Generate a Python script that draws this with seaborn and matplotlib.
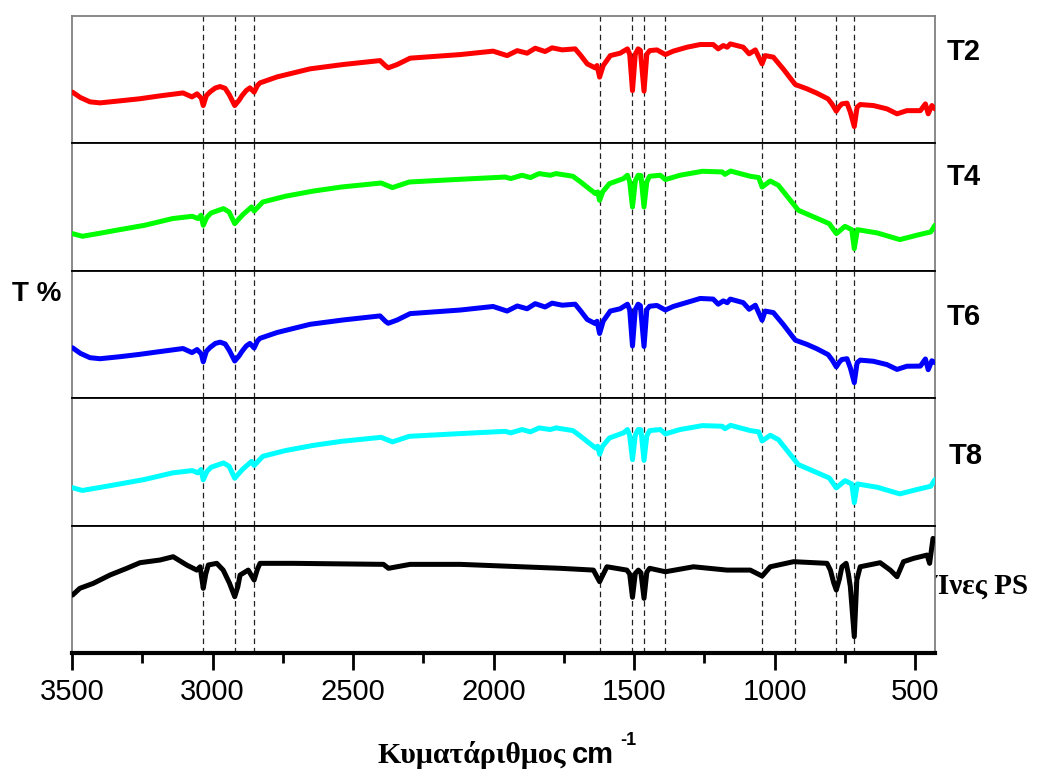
import numpy as np
import pandas as pd
import matplotlib
matplotlib.use("Agg")
import matplotlib.pyplot as plt
import seaborn as sns

# Espectros FTIR: (número de onda cm-1, T% relativo no painel)
t2 = [(3498, 40.2), (3470, 36.0), (3436, 32.6), (3400, 31.8), (3329, 33.4), (3260, 35.0),
      (3187, 37.3), (3105, 39.6), (3073, 36.5), (3055, 38.9), (3040, 35.5), (3033, 29.7),
      (3022, 37.5), (3009, 40.4), (2990, 43.5), (2973, 44.6), (2955, 43.2), (2940, 38.0),
      (2921, 29.7), (2905, 34.0), (2895, 37.5), (2880, 41.5), (2867, 43.6), (2852, 40.2),
      (2840, 45.5), (2831, 47.5), (2770, 52.2), (2653, 58.5), (2536, 61.9), (2404, 65.0),
      (2385, 61.0), (2375, 59.3), (2343, 61.9), (2297, 66.9), (2119, 69.7), (2002, 72.4),
      (1952, 68.9), (1916, 72.8), (1881, 70.8), (1852, 74.7), (1817, 72.1), (1792, 75.0),
      (1756, 73.4), (1710, 74.2), (1690, 69.0), (1667, 62.4), (1639, 59.3), (1632, 61.1),
      (1623, 52.0), (1610, 61.1), (1585, 68.9), (1550, 70.8), (1524, 74.2), (1516, 70.0),
      (1506, 41.4), (1496, 70.0), (1486, 74.2), (1478, 73.0), (1465, 41.0), (1455, 70.0),
      (1445, 72.8), (1419, 73.4), (1389, 69.7), (1361, 72.4), (1312, 75.5), (1265, 77.6),
      (1219, 77.6), (1201, 74.2), (1183, 76.8), (1169, 75.5), (1158, 78.1), (1112, 75.5),
      (1091, 70.3), (1069, 73.4), (1045, 62.4), (1034, 68.9), (1005, 67.7), (970, 58.5),
      (927, 46.2), (885, 42.8), (850, 39.4), (810, 34.9), (795, 30.5), (781, 25.3),
      (770, 29.0), (761, 31.0), (743, 31.6), (731, 24.5), (717, 13.2), (707, 28.4),
      (696, 30.5), (649, 29.7), (601, 27.1), (565, 23.2), (530, 25.7), (482, 25.7),
      (464, 31.0), (454, 23.2), (441, 29.7), (430, 27.1)]

t4 = [(3499, 29.2), (3463, 27.1), (3400, 29.5), (3343, 31.8), (3242, 35.7), (3142, 41.0),
      (3072, 42.8), (3052, 41.0), (3041, 43.6), (3033, 35.7), (3020, 42.0), (3005, 45.4),
      (2961, 48.8), (2941, 46.2), (2921, 37.0), (2905, 41.0), (2891, 44.3), (2861, 50.1),
      (2852, 46.9), (2821, 54.0), (2741, 58.5), (2641, 62.6), (2540, 65.8), (2400, 68.9),
      (2360, 65.3), (2300, 69.7), (2139, 71.6), (1959, 73.6), (1939, 72.4), (1899, 75.0),
      (1869, 73.2), (1838, 76.3), (1799, 75.0), (1778, 76.3), (1718, 74.2), (1695, 70.5),
      (1668, 65.8), (1638, 60.6), (1630, 61.9), (1623, 55.3), (1612, 62.0), (1588, 68.4),
      (1538, 72.4), (1524, 75.0), (1516, 70.0), (1506, 50.1), (1496, 70.5), (1486, 75.0),
      (1476, 74.8), (1465, 50.1), (1455, 70.0), (1445, 74.2), (1407, 75.0), (1389, 71.6),
      (1337, 75.0), (1257, 78.1), (1187, 77.6), (1177, 75.7), (1157, 78.3), (1087, 74.2),
      (1057, 73.2), (1045, 65.8), (1016, 70.5), (987, 67.1), (916, 47.5), (856, 41.8),
      (806, 37.0), (781, 29.2), (750, 34.9), (726, 32.3), (717, 17.4), (706, 32.3),
      (635, 29.7), (555, 24.5), (495, 27.9), (445, 30.5), (430, 35.7)]

t6 = [(3498, 39.6), (3470, 35.2), (3436, 31.8), (3400, 31.0), (3329, 32.6), (3260, 34.4),
      (3187, 36.6), (3105, 39.0), (3073, 35.8), (3055, 38.2), (3040, 34.8), (3033, 28.6),
      (3022, 36.8), (3009, 39.8), (2990, 43.0), (2973, 44.0), (2955, 42.6), (2940, 37.4),
      (2921, 29.2), (2905, 33.4), (2895, 36.8), (2880, 41.0), (2867, 43.0), (2852, 39.4),
      (2840, 45.0), (2831, 47.0), (2770, 51.6), (2653, 58.0), (2536, 61.4), (2404, 64.6),
      (2385, 60.4), (2375, 58.8), (2343, 61.4), (2297, 66.4), (2119, 69.2), (2002, 72.0),
      (1952, 68.4), (1916, 72.4), (1881, 70.2), (1852, 74.2), (1817, 71.6), (1792, 74.6),
      (1756, 73.0), (1710, 73.8), (1690, 68.4), (1667, 61.8), (1639, 58.6), (1632, 60.4),
      (1623, 50.8), (1610, 60.6), (1585, 68.4), (1550, 70.2), (1524, 73.8), (1516, 69.4),
      (1506, 41.0), (1496, 69.6), (1486, 73.8), (1478, 72.6), (1465, 40.6), (1455, 69.6),
      (1445, 72.2), (1419, 72.8), (1389, 69.2), (1361, 72.0), (1312, 75.2), (1265, 78.3),
      (1219, 77.8), (1201, 73.8), (1183, 76.4), (1169, 75.0), (1158, 77.8), (1112, 75.0),
      (1091, 69.8), (1069, 73.0), (1045, 61.2), (1034, 68.4), (1005, 67.2), (970, 58.0),
      (927, 45.6), (885, 42.2), (850, 38.8), (810, 34.2), (795, 29.8), (781, 24.6),
      (770, 28.4), (761, 30.4), (743, 31.0), (731, 23.8), (717, 12.2), (707, 27.8),
      (696, 29.9), (649, 29.0), (601, 26.4), (565, 22.6), (530, 25.1), (482, 25.2),
      (464, 30.8), (454, 22.4), (441, 29.4), (430, 27.9)]

t8 = [(3499, 29.8), (3463, 27.6), (3400, 30.0), (3343, 32.2), (3242, 36.2), (3142, 41.4),
      (3072, 43.2), (3052, 41.4), (3041, 44.0), (3033, 36.0), (3020, 42.4), (3005, 45.8),
      (2961, 49.2), (2941, 46.6), (2921, 37.2), (2905, 41.3), (2891, 44.6), (2861, 50.4),
      (2852, 47.2), (2821, 54.4), (2741, 58.9), (2641, 63.0), (2540, 66.2), (2400, 69.3),
      (2360, 65.7), (2300, 70.1), (2139, 72.0), (1959, 74.0), (1939, 72.8), (1899, 75.4),
      (1869, 73.6), (1838, 76.7), (1799, 75.4), (1778, 76.7), (1718, 74.6), (1695, 70.9),
      (1668, 66.2), (1638, 61.0), (1630, 62.3), (1623, 56.0), (1612, 62.4), (1588, 68.8),
      (1538, 72.8), (1524, 75.4), (1516, 70.6), (1506, 51.8), (1496, 71.0), (1486, 75.4),
      (1476, 75.2), (1465, 51.2), (1455, 70.6), (1445, 74.6), (1407, 75.4), (1389, 72.0),
      (1337, 75.4), (1257, 78.5), (1187, 78.0), (1177, 76.1), (1157, 78.7), (1087, 74.6),
      (1057, 73.6), (1045, 66.4), (1016, 70.9), (987, 67.5), (916, 47.9), (856, 42.2),
      (806, 37.4), (781, 29.6), (750, 35.3), (726, 32.7), (717, 18.0), (706, 32.7),
      (635, 30.1), (555, 24.9), (495, 28.3), (445, 30.9), (430, 36.1)]

ps = [(3498, 45.5), (3472, 50.8), (3424, 54.7), (3365, 61.2), (3305, 66.5), (3258, 70.9),
      (3187, 73.0), (3140, 75.6), (3092, 69.1), (3056, 65.1), (3044, 67.7), (3033, 50.8),
      (3024, 62.0), (3015, 69.1), (2985, 70.4), (2962, 65.1), (2940, 55.0), (2921, 44.2),
      (2910, 52.0), (2902, 61.2), (2873, 65.1), (2852, 57.3), (2840, 66.0), (2831, 70.4),
      (2712, 70.4), (2392, 69.6), (2374, 66.5), (2297, 69.6), (2119, 69.6), (1763, 66.5),
      (1645, 65.1), (1623, 56.0), (1597, 67.7), (1526, 65.1), (1516, 62.0), (1506, 43.7),
      (1496, 62.5), (1485, 65.1), (1476, 63.0), (1465, 42.9), (1455, 63.5), (1445, 66.5),
      (1389, 63.8), (1289, 67.7), (1170, 65.1), (1087, 65.1), (1045, 60.4), (1016, 67.7),
      (933, 71.7), (814, 70.4), (802, 65.1), (790, 55.0), (781, 49.5), (770, 58.0),
      (761, 67.7), (746, 70.4), (738, 62.0), (731, 52.0), (717, 12.8), (708, 57.3),
      (696, 67.7), (625, 70.9), (589, 65.1), (565, 59.9), (542, 71.7), (506, 74.3),
      (458, 76.9), (449, 70.4), (437, 90.0), (430, 88.7)]

nomes = ["T2", "T4", "T6", "T8", "Ίνες PS"]
cores = ["#ff0000", "#00ff00", "#0000ff", "#00ffff", "#000000"]
espectros = [t2, t4, t6, t8, ps]

# Bandas marcadas com linhas tracejadas
bandas = [3033, 2921, 2852, 1623, 1506, 1465, 1389, 1045, 927, 781, 717]
ticks_x = [3500, 3000, 2500, 2000, 1500, 1000, 500]

sns.set_style("white")
plt.rcParams["font.family"] = ["Liberation Sans", "DejaVu Sans"]
plt.rcParams["text.color"] = "black"
plt.rcParams["xtick.color"] = "black"

fig, axes = plt.subplots(5, 1, figsize=(10.37, 7.72), dpi=100, sharex=True)
fig.subplots_adjust(left=0.0694, right=0.9016, top=0.9793, bottom=0.1541, hspace=0)

for i, (ax, dados, cor) in enumerate(zip(axes, espectros, cores)):
    df = pd.DataFrame(dados, columns=["onda", "T"])
    sns.lineplot(data=df, x="onda", y="T", color=cor, linewidth=3.6, sort=False,
                 estimator=None, ax=ax, zorder=3)
    for b in bandas:
        ax.axvline(b, color="#222222", linestyle=(0, (4.5, 3)), linewidth=0.9, zorder=1)
    ax.set_ylim(0, 100)
    ax.set_xlim(3500, 430)
    ax.set_yticks([])
    ax.set_ylabel("")
    ax.set_xlabel("")
    for lado in ["left", "right"]:
        ax.spines[lado].set_color("#808080")
        ax.spines[lado].set_linewidth(1.3)
    ax.spines["top"].set_color("#808080" if i == 0 else "black")
    ax.spines["top"].set_linewidth(1.3)
    ax.spines["bottom"].set_color("black")
    ax.spines["bottom"].set_linewidth(1.3)
    ax.tick_params(axis="x", which="both", bottom=False, labelbottom=False)

ax = axes[-1]
ax.spines["bottom"].set_linewidth(3)
ax.set_xticks(ticks_x)
ax.set_xticks([3250, 2750, 2250, 1750, 1250, 750], minor=True)
ax.tick_params(axis="x", which="major", bottom=True, labelbottom=True, direction="out",
               length=12, width=2, pad=6, labelsize=21)
ax.tick_params(axis="x", which="minor", bottom=True, direction="out", length=7, width=2)

# Rótulos das amostras à direita
pos_rotulos = [(964, 52), (964, 177), (964, 317), (966, 456), (934, 586)]
for nome, (px, py) in zip(nomes, pos_rotulos):
    if nome.startswith("Ί"):
        fig.text(px / 1037, 1 - py / 772, nome, ha="left", va="center", fontsize=21,
                 fontweight="bold", family=["Liberation Serif", "DejaVu Serif"], zorder=-1)
    else:
        fig.text(px / 1037, 1 - py / 772, nome, ha="center", va="center", fontsize=21,
                 fontweight="bold")

fig.text(37 / 1037, 1 - 294 / 772, "T %", ha="center", va="center", fontsize=20,
         fontweight="bold")

# Título do eixo x
fig.text(566 / 1037, 1 - 763 / 772, "Κυματάριθμος", ha="right", va="baseline",
         fontsize=21.5, fontweight="bold", family=["Liberation Serif", "DejaVu Serif"])
fig.text(572 / 1037, 1 - 763 / 772, "cm", ha="left", va="baseline",
         fontsize=21, fontweight="bold")
fig.text(620 / 1037, 1 - 745 / 772, "-1", ha="left", va="baseline",
         fontsize=13, fontweight="bold")

fig.savefig("out.png", dpi=100, facecolor="white")
